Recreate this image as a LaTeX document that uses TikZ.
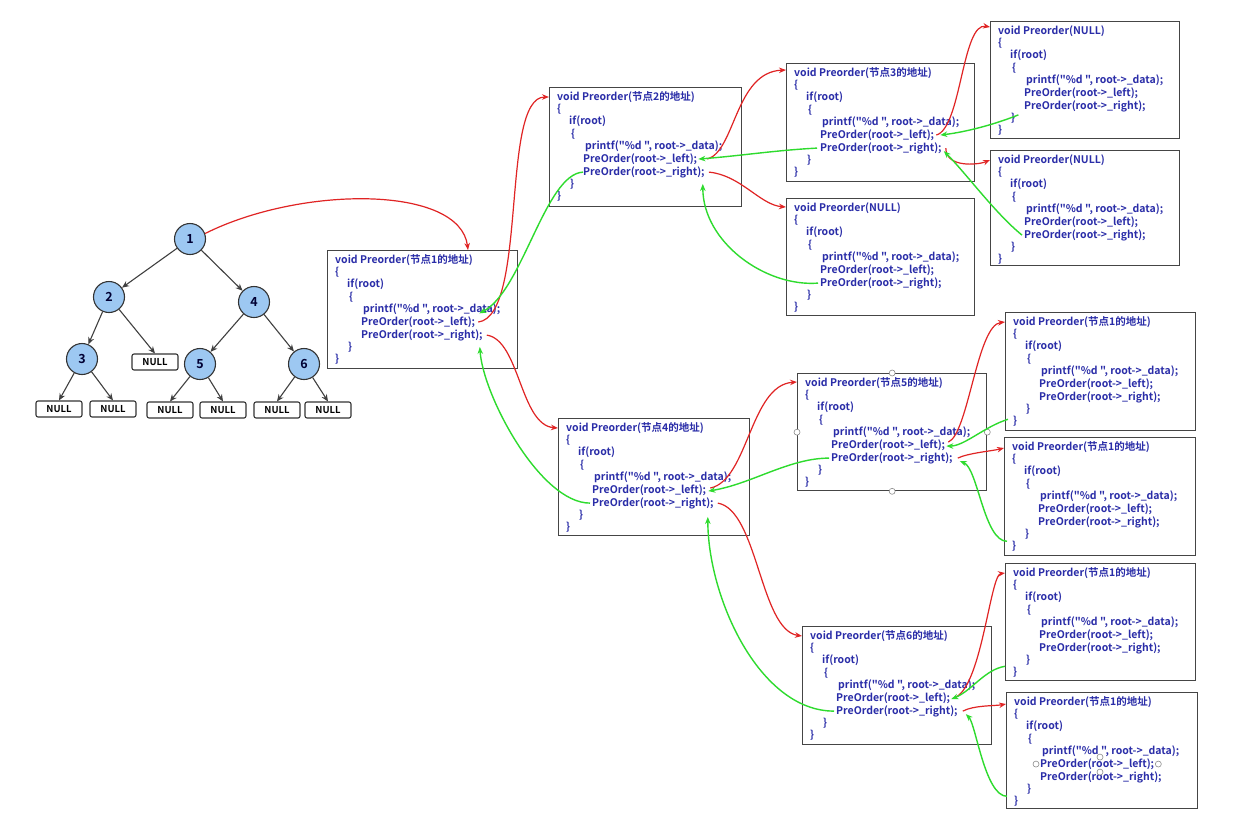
\documentclass[tikz,border=0pt]{standalone}
\usepackage{fontspec}
\newfontfamily\codefont{Noto Sans CJK SC}[BoldFont={Noto Sans CJK SC Bold}]
\usetikzlibrary{calc,arrows.meta}
\definecolor{codeblue}{HTML}{2A2DA8}
\definecolor{callred}{HTML}{E02424}
\definecolor{retgreen}{HTML}{2EDB2E}
\definecolor{nodeblue}{HTML}{9DC8F2}
\definecolor{boxgrey}{HTML}{454545}
\tikzset{
  cbox/.style={draw=boxgrey, line width=1.3pt, fill=white, inner sep=0pt},
  code/.style={anchor=base west, inner sep=0pt, text=codeblue, font=\codefont\fontsize{10.5}{11}\selectfont\bfseries},
  call/.style={draw=callred, line width=1.2pt, -{Stealth[length=7pt,width=5.5pt]}},
  ret/.style={draw=retgreen, line width=1.4pt, -{Stealth[length=7pt,width=5.5pt]}},
  tnode/.style={circle, draw=black!80, line width=1.1pt, fill=nodeblue, minimum size=31pt, inner sep=0pt, font=\codefont\fontsize{12.5}{13}\selectfont\bfseries, text=black!80!blue},
  nullbox/.style={draw=black!80, line width=1.1pt, rounded corners=2pt, fill=white, minimum width=46pt, minimum height=16pt, inner sep=0pt, font=\codefont\fontsize{9.5}{10}\selectfont\bfseries},
  tedge/.style={draw=black!75, line width=1.1pt, -{Stealth[length=7pt,width=6pt]}},
  handle/.style={circle, draw=black!45, line width=0.6pt, fill=white, minimum size=6pt, inner sep=0pt}
}
\newcommand\codebox[6]{%
 \node[cbox, minimum width=#4pt, minimum height=#5pt, anchor=north west] (#1) at (#2,#3) {};
 \node[code] (#1-t) at ($(#1.north west)+(8,13)$) {void Preorder(#6)};
 \node[code] (#1-o) at ($(#1.north west)+(8,25.4)$) {\{};
 \node[code] (#1-i) at ($(#1.north west)+(20,37.8)$) {if(root)};
 \node[code] (#1-b) at ($(#1.north west)+(22,50.2)$) {\{};
 \node[code] (#1-p) at ($(#1.north west)+(36,62.6)$) {printf("\%d ", root->\_data);};
 \node[code] (#1-l) at ($(#1.north west)+(34,75.3)$) {PreOrder(root->\_left);};
 \node[code] (#1-r) at ($(#1.north west)+(34,88.2)$) {PreOrder(root->\_right);};
 \node[code] (#1-c) at ($(#1.north west)+(21,100.2)$) {\}};
 \node[code] (#1-e) at ($(#1.north west)+(8,112.2)$) {\}};
}
\begin{document}
\begin{tikzpicture}[x=1pt,y=-1pt]
\useasboundingbox[fill=white] (0,0) rectangle (1250,828);
% ---- tree ----
\node[tnode] (n1) at (190,239) {1};
\node[tnode] (n2) at (109,297) {2};
\node[tnode] (n4) at (254,302) {4};
\node[tnode] (n3) at (82,359) {3};
\node[nullbox] (z2) at (155,362) {NULL};
\node[tnode] (n5) at (200,364) {5};
\node[tnode] (n6) at (304,364) {6};
\node[nullbox] (z3a) at (59,409) {NULL};
\node[nullbox] (z3b) at (113,409) {NULL};
\node[nullbox] (z5a) at (170,410) {NULL};
\node[nullbox] (z5b) at (223,410) {NULL};
\node[nullbox] (z6a) at (277,410) {NULL};
\node[nullbox] (z6b) at (328,410) {NULL};
\draw[tedge] (n1) -- (n2);
\draw[tedge] (n1) -- (n4);
\draw[tedge] (n2) -- (n3);
\draw[tedge] (n2) -- (z2.north);
\draw[tedge] (n4) -- (n5);
\draw[tedge] (n4) -- (n6);
\draw[tedge] (n3) -- (z3a.north);
\draw[tedge] (n3) -- (z3b.north);
\draw[tedge] (n5) -- (z5a.north);
\draw[tedge] (n5) -- (z5b.north);
\draw[tedge] (n6) -- (z6a.north);
\draw[tedge] (n6) -- (z6b.north);
% ---- code boxes ----
\codebox{B1}{327}{250}{190}{118}{节点1的地址}
\codebox{B2}{549}{87}{192}{119}{节点2的地址}
\codebox{B3}{786}{63}{188}{118}{节点3的地址}
\codebox{NA}{990}{21}{189}{117}{NULL}
\codebox{NB}{990}{150}{189}{115}{NULL}
\codebox{NC}{786}{198}{188}{117}{NULL}
\codebox{B4}{558}{418}{191}{117}{节点4的地址}
\codebox{B5}{797}{373}{189}{117}{节点5的地址}
\codebox{L5}{1005}{312}{190}{118}{节点1的地址}
\codebox{R5}{1004}{437}{191}{118}{节点1的地址}
\codebox{B6}{802}{626}{189}{118}{节点6的地址}
\codebox{L6}{1005}{563}{190}{117}{节点1的地址}
\codebox{R6}{1006}{692}{191}{116}{节点1的地址}
% ---- selection handles ----
\node[handle] (h1) at (B5.north) {};
\node[handle] (h2) at (B5.south) {};
\node[handle] (h3) at (B5.west) {};
\node[handle] (h4) at (B5.east) {};
\node[handle] (h5) at ($(R6-l.west)+(-4,0)$) {};
\node[handle] (h6) at ($(R6-l.east)+(4,0)$) {};
\node[handle] (h7) at ($(R6-l.west)+(60,-7)$) {};
\node[handle] (h8) at ($(R6-l.west)+(60,8)$) {};
% ---- calls (red) and returns (green) ----
\draw[call] (n1.20) .. controls +(96,-48) and +(-8,-65) .. ($(B1.north west)+(141,0)$);
\draw[call] ($(B1-l.east)+(3,0)$) .. controls +(50,-7) and +(-49,0) .. ($(B2.north west)+(0,10)$);
\draw[ret] (B2-r.west) .. controls +(-38,2) and +(43,-22) .. ($(B1-l.north east)+(4,-3)$);
\draw[call] ($(B2-l.east)+(10,0)$) .. controls +(28,-8) and +(-51,2) .. ($(B3.north west)+(0,7)$);
\draw[ret] ($(B3-r.west)+(-3,0)$) .. controls +(-40,2) and +(40,-3) .. ($(B2-l.east)+(1,0)$);
\draw[call] ($(B3-l.east)+(2,0)$) .. controls +(25,-7) and +(-28,-5) .. ($(NA.north west)+(0,6)$);
\draw[ret] ($(NA-c.east)+(3,-3)$) .. controls +(-25,10) and +(25,-3) .. ($(B3-l.east)+(6,0)$);
\draw[call] ($(B3-r.east)+(4,0)$) .. controls +(0,20) and +(-12,5) .. ($(NB.north west)+(0,10)$);
\draw[ret] ($(NB-r.west)+(-2,0)$) .. controls +(-27,-22) and +(22,22) .. ($(B3-r.east)+(2,3)$);
\draw[call] ($(B2-r.east)+(4,0)$) .. controls +(32,3) and +(-26,-2) .. ($(NC.north west)+(0,9)$);
\draw[ret] ($(NC-r.west)+(-2,0)$) .. controls +(-53,4) and +(0,58) .. ($(B2-r.south east)+(-2,6)$);
\draw[call] ($(B1-r.east)+(4,0)$) .. controls +(33,5) and +(-38,-3) .. ($(B4.north west)+(0,10)$);
\draw[ret] ($(B4-r.west)+(-2,0)$) .. controls +(-50,0) and +(3,48) .. ($(B1-r.south east)+(-3,6)$);
\draw[call] ($(B4-l.east)+(4,-2)$) .. controls +(38,-8) and +(-47,3) .. ($(B5.north west)+(0,9)$);
\draw[ret] ($(B5-r.west)+(-2,0)$) .. controls +(-40,0) and +(43,-7) .. ($(B4-l.east)+(2,1)$);
\draw[call] ($(B5-l.east)+(3,-3)$) .. controls +(20,-8) and +(-28,3) .. ($(L5.north west)+(0,10)$);
\draw[ret] ($(L5.south west)+(3,-12)$) .. controls +(-23,7) and +(18,0) .. ($(B5-l.east)+(1,1)$);
\draw[call] ($(B5-r.east)+(5,0)$) .. controls +(10,-5) and +(-12,3) .. ($(R5.north west)+(0,11)$);
\draw[ret] ($(R5.south west)+(3,-15)$) .. controls +(-23,0) and +(18,7) .. ($(B5-r.east)+(7,3)$);
\draw[call] ($(B4-r.east)+(4,0)$) .. controls +(40,7) and +(-42,-6) .. ($(B6.north west)+(0,10)$);
\draw[ret] ($(B6-r.west)+(-2,0)$) .. controls +(-75,0) and +(0,80) .. ($(B4-r.south east)+(-6,8)$);
\draw[call] ($(B6-l.east)+(3,0)$) .. controls +(28,-7) and +(-15,2) .. ($(L6.north west)+(0,10)$);
\draw[ret] ($(L6.south west)+(0,-15)$) .. controls +(-20,3) and +(20,-8) .. ($(B6-l.east)+(1,1)$);
\draw[call] ($(B6-r.east)+(5,0)$) .. controls +(11,-6) and +(-11,2) .. ($(R6.north west)+(0,12)$);
\draw[ret] ($(R6.south west)+(1,-13)$) .. controls +(-22,0) and +(10,10) .. ($(B6-r.east)+(8,3)$);
\end{tikzpicture}
\end{document}
